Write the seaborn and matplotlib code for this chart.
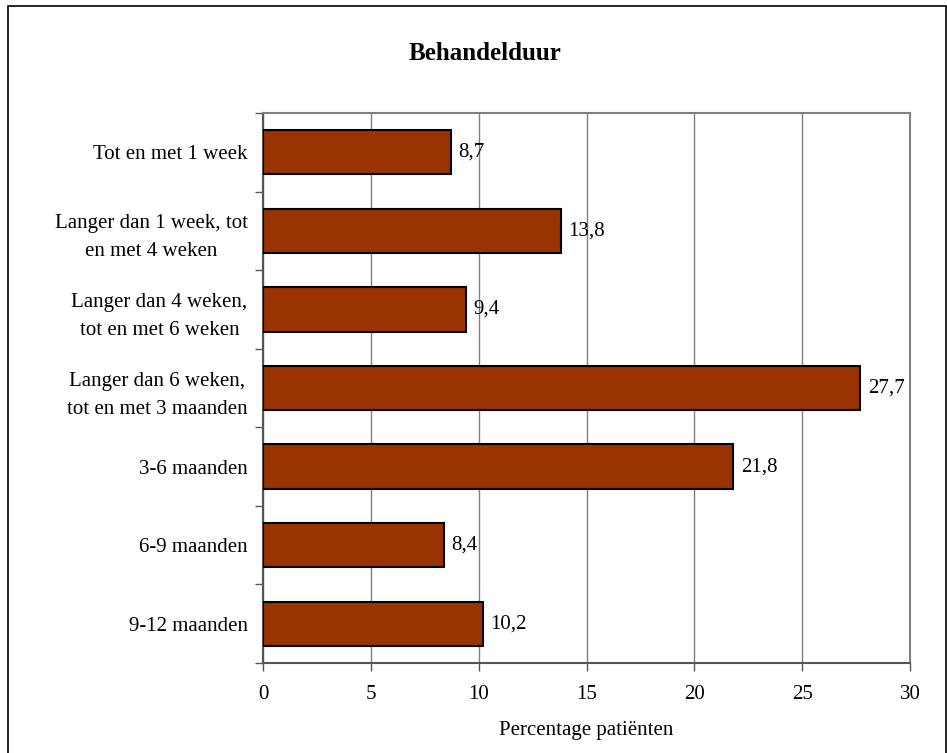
import matplotlib.pyplot as plt
import seaborn as sns
import pandas as pd
from matplotlib.patches import Rectangle
from matplotlib.ticker import FixedLocator

categories = [
    "Tot en met 1 week",
    "Langer dan 1 week, tot\nen met 4 weken",
    "Langer dan 4 weken,\ntot en met 6 weken",
    "Langer dan 6 weken,\ntot en met 3 maanden",
    "3-6 maanden",
    "6-9 maanden",
    "9-12 maanden",
]
values = [8.7, 13.8, 9.4, 27.7, 21.8, 8.4, 10.2]
value_labels = ["8,7", "13,8", "9,4", "27,7", "21,8", "8,4", "10,2"]
xticks = [0, 5, 10, 15, 20, 25, 30]

sns.set_style("white")
plt.rcParams["font.family"] = ["Liberation Serif", "DejaVu Serif"]
plt.rcParams["font.size"] = 15
plt.rcParams["text.color"] = "black"
plt.rcParams["xtick.color"] = "black"
plt.rcParams["ytick.color"] = "black"
plt.rcParams["axes.labelcolor"] = "black"

df = pd.DataFrame({"cat": categories, "val": values})

fig = plt.figure(figsize=(9.47, 7.53), dpi=100)
ax = fig.add_axes([263 / 947, 1 - 663 / 753, (910 - 263) / 947, (663 - 113) / 753])

# outer frame around the whole chart
fig.patches.append(Rectangle((8 / 947, -0.01), (946 - 8) / 947, 1 - 6 / 753 + 0.01,
                             transform=fig.transFigure, fill=False, edgecolor="black",
                             linewidth=1.2, zorder=0))

sns.barplot(data=df, x="val", y="cat", orient="h", color="#993300", saturation=1,
            width=0.565, edgecolor="black", linewidth=1.5, ax=ax, zorder=3)

ax.set_xlim(0, 30)
ax.set_ylim(len(categories) - 0.5, -0.5)
ax.set_xticks(xticks)
ax.set_xticklabels([str(t) for t in xticks], fontsize=15)
ax.xaxis.grid(True, color="#808080", linewidth=1)
ax.set_axisbelow(True)

ax.set_yticks(range(len(categories)))
ax.set_yticklabels(categories, fontsize=15, linespacing=1.65, ha="right",
                   multialignment="center")
ax.tick_params(axis="y", length=0, pad=11)
ax.yaxis.set_minor_locator(FixedLocator([i - 0.5 for i in range(len(categories) + 1)]))
ax.tick_params(axis="y", which="minor", length=6, width=1, color="#555555", left=True)
ax.tick_params(axis="x", length=6, width=1, color="#555555", bottom=True, pad=10)

for side in ["top", "right"]:
    ax.spines[side].set_color("#808080")
    ax.spines[side].set_linewidth(1.5)
for side in ["left", "bottom"]:
    ax.spines[side].set_color("#555555")
    ax.spines[side].set_linewidth(1.5)

for i, (v, lab) in enumerate(zip(values, value_labels)):
    ax.text(v + 0.35, i, lab, va="center", ha="left", fontsize=15, zorder=5)

ax.set_xlabel("Percentage patiënten", fontsize=15, labelpad=12)
ax.set_ylabel("")
fig.text(485 / 947, 1 - 54 / 753, "Behandelduur", ha="center", va="center",
         fontsize=18, fontweight="bold")

fig.savefig("out.png", dpi=100)
